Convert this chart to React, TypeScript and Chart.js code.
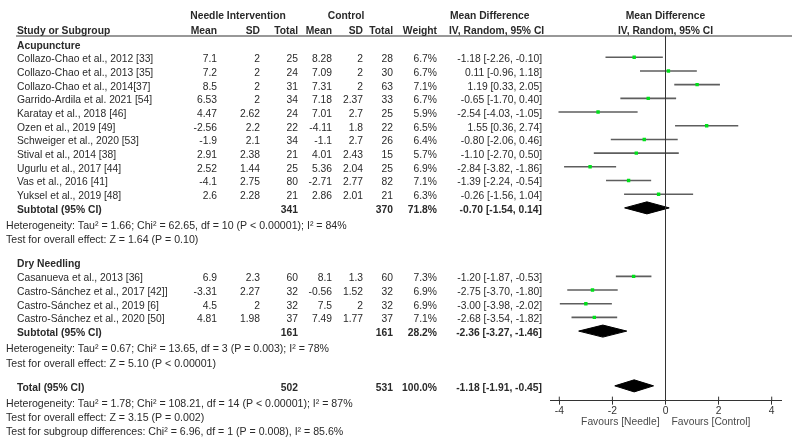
import React, { useEffect, useRef } from "react";
import { Chart, registerables } from "chart.js";

Chart.register(...registerables);

// ---------- data ----------
const acuStudies = [
  "Collazo-Chao et al., 2012 [33]",
  "Collazo-Chao et al., 2013 [35]",
  "Collazo-Chao et al., 2014[37]",
  "Garrido-Ardila et al. 2021 [54]",
  "Karatay et al., 2018 [46]",
  "Ozen et al., 2019 [49]",
  "Schweiger et al., 2020 [53]",
  "Stival et al., 2014 [38]",
  "Ugurlu et al., 2017 [44]",
  "Vas et al., 2016 [41]",
  "Yuksel et al., 2019 [48]",
];
const acuNeedleMean = [7.1, 7.2, 8.5, 6.53, 4.47, -2.56, -1.9, 2.91, 2.52, -4.1, 2.6];
const acuNeedleSD = [2, 2, 2, 2, 2.62, 2.2, 2.1, 2.38, 1.44, 2.75, 2.28];
const acuNeedleN = [25, 24, 31, 34, 24, 22, 34, 21, 25, 80, 21];
const acuCtrlMean = [8.28, 7.09, 7.31, 7.18, 7.01, -4.11, -1.1, 4.01, 5.36, -2.71, 2.86];
const acuCtrlSD = [2, 2, 2, 2.37, 2.7, 1.8, 2.7, 2.43, 2.04, 2.77, 2.01];
const acuCtrlN = [28, 30, 63, 33, 25, 22, 26, 15, 25, 82, 21];
const acuWeight = [6.7, 6.7, 7.1, 6.7, 5.9, 6.5, 6.4, 5.7, 6.9, 7.1, 6.3];
const acuMD = [-1.18, 0.11, 1.19, -0.65, -2.54, 1.55, -0.8, -1.1, -2.84, -1.39, -0.26];
const acuLo = [-2.26, -0.96, 0.33, -1.7, -4.03, 0.36, -2.06, -2.7, -3.82, -2.24, -1.56];
const acuHi = [-0.1, 1.18, 2.05, 0.4, -1.05, 2.74, 0.46, 0.5, -1.86, -0.54, 1.04];

const dryStudies = [
  "Casanueva et al., 2013 [36]",
  "Castro-Sánchez et al., 2017 [42]]",
  "Castro-Sánchez et al., 2019 [6]",
  "Castro-Sánchez et al., 2020 [50]",
];
const dryNeedleMean = [6.9, -3.31, 4.5, 4.81];
const dryNeedleSD = [2.3, 2.27, 2, 1.98];
const dryNeedleN = [60, 32, 32, 37];
const dryCtrlMean = [8.1, -0.56, 7.5, 7.49];
const dryCtrlSD = [1.3, 1.52, 2, 1.77];
const dryCtrlN = [60, 32, 32, 37];
const dryWeight = [7.3, 6.9, 6.9, 7.1];
const dryMD = [-1.2, -2.75, -3.0, -2.68];
const dryLo = [-1.87, -3.7, -3.98, -3.54];
const dryHi = [-0.53, -1.8, -2.02, -1.82];

// subtotal / total: [needle N, control N, weight, md, lo, hi]
const acuSubtotal = [341, 370, 71.8, -0.7, -1.54, 0.14];
const drySubtotal = [161, 161, 28.2, -2.36, -3.27, -1.46];
const overallTotal = [502, 531, 100.0, -1.18, -1.91, -0.45];

const acuStats = [
  "Heterogeneity: Tau² = 1.66; Chi² = 62.65, df = 10 (P < 0.00001); I² = 84%",
  "Test for overall effect: Z = 1.64 (P = 0.10)",
];
const dryStats = [
  "Heterogeneity: Tau² = 0.67; Chi² = 13.65, df = 3 (P = 0.003); I² = 78%",
  "Test for overall effect: Z = 5.10 (P < 0.00001)",
];
const totalStats = [
  "Heterogeneity: Tau² = 1.78; Chi² = 108.21, df = 14 (P < 0.00001); I² = 87%",
  "Test for overall effect: Z = 3.15 (P = 0.002)",
  "Test for subgroup differences: Chi² = 6.96, df = 1 (P = 0.008), I² = 85.6%",
];

const xTickValues = [-4, -2, 0, 2, 4];
const favourLabels = ["Favours [Needle]", "Favours [Control]"];

// ---------- layout (code, not data) ----------
const FONT = "'Liberation Sans', Arial, Helvetica, sans-serif";
const FS = 10.3;
const FS_STATS = 10.6;
const TEXT = "#2a2a2a";
const nA = acuStudies.length;
const nD = dryStudies.length;
const rowAcuHeader = -0.97;
const rowAcuSub = nA;
const rowDryHeader = rowAcuSub + 3.94;
const rowDry0 = rowAcuSub + 5;
const rowDrySub = rowDry0 + nD;
const rowTotal = rowDrySub + 4;
const HET = 1.17;
const TST = 2.24;
const SUBG = 3.25;

const fmtCI = (m: number, l: number, h: number) =>
  `${m.toFixed(2)} [${l.toFixed(2)}, ${h.toFixed(2)}]`;

export default function App() {
  const ref = useRef<HTMLCanvasElement>(null);

  useEffect(() => {
    const canvas = ref.current!;
    const datasets: any[] = [];

    const addCI = (lo: number, hi: number, row: number) =>
      datasets.push({
        type: "line",
        data: [
          { x: lo, y: row },
          { x: hi, y: row },
        ],
        borderColor: "#5e5e5e",
        borderWidth: 1.6,
        pointRadius: 0,
        fill: false,
        order: 2,
      });
    acuLo.forEach((l, i) => addCI(l, acuHi[i], i));
    dryLo.forEach((l, i) => addCI(l, dryHi[i], rowDry0 + i));

    datasets.push({
      type: "scatter",
      data: [
        ...acuMD.map((m, i) => ({ x: m, y: i })),
        ...dryMD.map((m, i) => ({ x: m, y: rowDry0 + i })),
      ],
      pointStyle: "rect",
      pointRadius: 2.4,
      backgroundColor: "#00e01a",
      borderWidth: 0,
      order: 0,
    });

    const H = 0.44;
    const addDiamond = (s: number[], row: number) =>
      datasets.push({
        type: "line",
        data: [
          { x: s[4], y: row },
          { x: s[3], y: row - H },
          { x: s[5], y: row },
          { x: s[3], y: row + H },
          { x: s[4], y: row },
        ],
        borderColor: "#000",
        borderWidth: 1,
        backgroundColor: "#000",
        pointRadius: 0,
        fill: "shape",
        tension: 0,
        order: 1,
      });
    addDiamond(acuSubtotal, rowAcuSub);
    addDiamond(drySubtotal, rowDrySub);
    addDiamond(overallTotal, rowTotal);

    const tablePlugin = {
      id: "forestTable",
      afterDraw(chart: any) {
        const ctx: CanvasRenderingContext2D = chart.ctx;
        const xs = chart.scales.x;
        const ys = chart.scales.y;
        const area = chart.chartArea;
        const TOFF = 2;
        const Y = (r: number) => ys.getPixelForValue(r) + TOFF;
        const text = (
          s: string,
          x: number,
          y: number,
          align: CanvasTextAlign = "left",
          bold = false,
          color = TEXT,
          size = FS
        ) => {
          ctx.save();
          ctx.font = `${bold ? "bold " : ""}${size}px ${FONT}`;
          ctx.fillStyle = color;
          ctx.textAlign = align;
          ctx.textBaseline = "middle";
          ctx.fillText(s, x, y);
          ctx.restore();
        };
        const stat = (s: string, row: number) => text(s, 6, Y(row), "left", false, TEXT, FS_STATS);

        // header rule
        ctx.save();
        ctx.strokeStyle = "#333";
        ctx.lineWidth = 1.2;
        ctx.beginPath();
        ctx.moveTo(16, area.top);
        ctx.lineTo(792, area.top);
        ctx.stroke();
        // zero line
        const x0 = xs.getPixelForValue(0);
        ctx.lineWidth = 1;
        ctx.beginPath();
        ctx.moveTo(x0, area.top);
        ctx.lineTo(x0, area.bottom);
        ctx.stroke();
        // upper halves of tick marks
        xs.ticks.forEach((t: any) => {
          const px = xs.getPixelForValue(t.value);
          ctx.beginPath();
          ctx.moveTo(px, area.bottom - 4);
          ctx.lineTo(px, area.bottom);
          ctx.stroke();
        });
        ctx.restore();

        // column headers
        const h1 = 16.5;
        const h2 = 31;
        text("Needle Intervention", 238, h1, "center", true);
        text("Control", 346, h1, "center", true);
        text("Mean Difference", 450, h1, "left", true);
        text("Mean Difference", x0, h1, "center", true);
        text("Study or Subgroup", 17, h2, "left", true);
        text("Mean", 217, h2, "right", true);
        text("SD", 260, h2, "right", true);
        text("Total", 298, h2, "right", true);
        text("Mean", 332, h2, "right", true);
        text("SD", 363, h2, "right", true);
        text("Total", 393, h2, "right", true);
        text("Weight", 437, h2, "right", true);
        text("IV, Random, 95% CI", 449, h2, "left", true);
        text("IV, Random, 95% CI", x0, h2, "center", true);

        const studyRow = (
          name: string,
          nm: number,
          nsd: number,
          nn: number,
          cm: number,
          csd: number,
          cn: number,
          w: number,
          md: number,
          lo: number,
          hi: number,
          row: number
        ) => {
          const y = Y(row);
          text(name, 17, y);
          text(String(nm), 217, y, "right");
          text(String(nsd), 260, y, "right");
          text(String(nn), 298, y, "right");
          text(String(cm), 332, y, "right");
          text(String(csd), 363, y, "right");
          text(String(cn), 393, y, "right");
          text(`${w.toFixed(1)}%`, 437, y, "right");
          text(fmtCI(md, lo, hi), 542, y, "right");
        };
        const sumRow = (label: string, s: number[], row: number) => {
          const y = Y(row);
          text(label, 17, y, "left", true);
          text(String(s[0]), 298, y, "right", true);
          text(String(s[1]), 393, y, "right", true);
          text(`${s[2].toFixed(1)}%`, 437, y, "right", true);
          text(fmtCI(s[3], s[4], s[5]), 542, y, "right", true);
        };

        text("Acupuncture", 17, Y(rowAcuHeader), "left", true);
        acuStudies.forEach((n, i) =>
          studyRow(n, acuNeedleMean[i], acuNeedleSD[i], acuNeedleN[i], acuCtrlMean[i], acuCtrlSD[i], acuCtrlN[i], acuWeight[i], acuMD[i], acuLo[i], acuHi[i], i)
        );
        sumRow("Subtotal (95% CI)", acuSubtotal, rowAcuSub);
        stat(acuStats[0], rowAcuSub + HET);
        stat(acuStats[1], rowAcuSub + TST);

        text("Dry Needling", 17, Y(rowDryHeader), "left", true);
        dryStudies.forEach((n, i) =>
          studyRow(n, dryNeedleMean[i], dryNeedleSD[i], dryNeedleN[i], dryCtrlMean[i], dryCtrlSD[i], dryCtrlN[i], dryWeight[i], dryMD[i], dryLo[i], dryHi[i], rowDry0 + i)
        );
        sumRow("Subtotal (95% CI)", drySubtotal, rowDrySub);
        stat(dryStats[0], rowDrySub + HET);
        stat(dryStats[1], rowDrySub + TST);

        sumRow("Total (95% CI)", overallTotal, rowTotal);
        stat(totalStats[0], rowTotal + HET);
        stat(totalStats[1], rowTotal + TST);
        stat(totalStats[2], rowTotal + SUBG);

        // favour labels
        const fy = area.bottom + 22;
        text(favourLabels[0], x0 - 6, fy, "right", false, "#4a4a4a");
        text(favourLabels[1], x0 + 6, fy, "left", false, "#4a4a4a");
      },
    };

    const chart = new Chart(canvas, {
      type: "scatter",
      data: { datasets },
      options: {
        animation: false,
        responsive: false,
        devicePixelRatio: 1,
        events: [],
        layout: { padding: { left: 550, right: 17, top: 36, bottom: 27 } },
        plugins: { legend: { display: false }, tooltip: { enabled: false } },
        scales: {
          x: {
            type: "linear",
            min: -4.35,
            max: 4.35,
            afterBuildTicks: (s: any) => {
              s.ticks = xTickValues.map((v) => ({ value: v }));
            },
            ticks: {
              font: { family: FONT, size: FS },
              color: "#333",
              padding: 0,
              maxRotation: 0,
              autoSkip: false,
            },
            grid: {
              display: true,
              drawOnChartArea: false,
              drawTicks: true,
              tickLength: 4,
              color: "#333",
            },
            border: { display: true, color: "#333", width: 1 },
          },
          y: {
            type: "linear",
            display: false,
            min: -1.555,
            max: 25.08,
            reverse: true,
          },
        },
      },
      plugins: [tablePlugin],
    } as any);

    return () => chart.destroy();
  }, []);

  return (
    <div
      style={{
        position: "fixed",
        left: 0,
        top: 0,
        width: 798,
        height: 444,
        background: "#fff",
      }}
    >
      <canvas ref={ref} width={798} height={444} style={{ width: 798, height: 444, display: "block" }} />
    </div>
  );
}
